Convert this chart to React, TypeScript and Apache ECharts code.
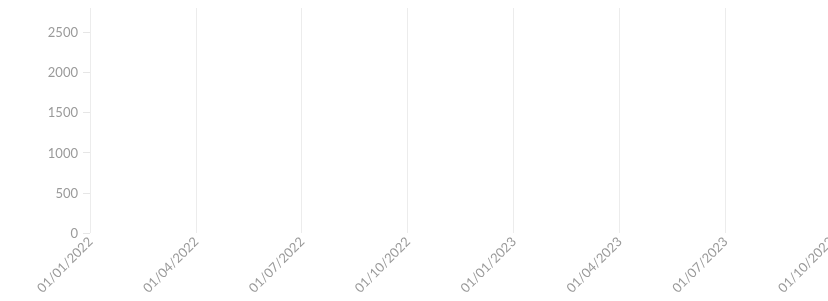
import React, { useEffect, useRef } from "react";
import * as echarts from "echarts";

const categories: string[] = [
  "01/01/2022",
  "01/04/2022",
  "01/07/2022",
  "01/10/2022",
  "01/01/2023",
  "01/04/2023",
  "01/07/2023",
  "01/10/2023",
];

// The reference plots no data: every value is empty.
const values: (number | null)[] = [null, null, null, null, null, null, null, null];

const yTicks: number[] = [0, 500, 1000, 1500, 2000, 2500];
const yMax = 2800;

export default function App() {
  const ref = useRef<HTMLDivElement>(null);

  useEffect(() => {
    if (!ref.current) return;
    const chart = echarts.init(ref.current, undefined, { renderer: "svg" });
    const font = "Lato";
    chart.setOption({
      animation: false,
      grid: {
        left: 90,
        right: -3,
        top: 8,
        bottom: 68,
        containLabel: false,
        outerBoundsMode: "none",
      },
      xAxis: {
        type: "category",
        data: categories,
        boundaryGap: false,
        axisLine: { show: false },
        axisTick: { show: false },
        splitLine: {
          show: true,
          interval: 0,
          lineStyle: { color: "#ececec", width: 1 },
        },
        axisLabel: {
          interval: 0,
          rotate: 45,
          margin: 6,
          color: "#9a9a9a",
          fontFamily: font,
          fontSize: 13,
        },
      },
      yAxis: {
        type: "value",
        min: 0,
        max: yMax,
        interval: 500,
        axisLine: { show: false },
        splitLine: { show: false },
        axisTick: {
          show: true,
          length: 7,
          customValues: yTicks,
          lineStyle: { color: "#e6e6e6" },
        },
        axisLabel: {
          customValues: yTicks,
          margin: 12,
          color: "#9a9a9a",
          fontFamily: font,
          fontSize: 13,
          formatter: (v: number) => String(v),
        },
      },
      series: [
        {
          type: "line",
          data: values,
          showSymbol: false,
        },
      ],
    });
    return () => chart.dispose();
  }, []);

  return (
    <div
      ref={ref}
      style={{ position: "fixed", left: 0, top: 0, width: 828, height: 301 }}
    />
  );
}
